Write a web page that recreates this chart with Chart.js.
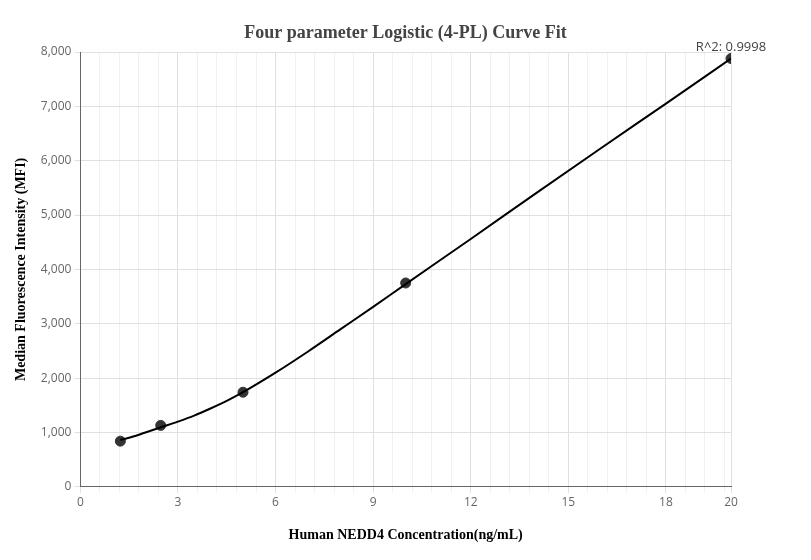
<!DOCTYPE html>
<html><head><meta charset="utf-8">
<script src="https://cdn.jsdelivr.net/npm/chart.js@4/dist/chart.umd.min.js"></script>
<style>html,body{margin:0;padding:0;background:#fff}#w{width:811px;height:560px}</style>
</head><body><div id="w"><canvas id="c"></canvas></div>
<script>
const pointX = [1.23, 2.47, 5, 10, 20];
const pointY = [840, 1130, 1740, 3750, 7880];
const curveX = [1.23, 1.6, 2, 2.5, 3, 3.5, 4, 4.5, 5, 6, 7, 8, 9, 10, 12, 14, 16, 18, 20];
const curveY = [860, 920, 1000, 1100, 1200, 1310, 1440, 1580, 1740, 2100, 2490, 2900, 3310, 3730, 4560, 5400, 6230, 7050, 7880];
const r2Label = 'R^2: 0.9998';
const titleText = 'Four parameter Logistic (4-PL) Curve Fit';

const r2Plugin = {id:'r2', afterDraw(chart){
  const c=chart.ctx, xs=chart.scales.x, ys=chart.scales.y;
  c.save(); c.font='13px "Open Sans", sans-serif'; c.fillStyle='#444'; c.textAlign='center'; c.textBaseline='bottom';
  c.fillText(r2Label, xs.getPixelForValue(pointX[4]), ys.getPixelForValue(pointY[4])-5);
  c.font='bold 18px "Liberation Serif", serif'; c.textBaseline='middle';
  c.fillText(titleText, chart.width/2, 33);
  c.restore();
}};
new Chart(document.getElementById('c'), {
  type:'scatter',
  data:{datasets:[
    {type:'line', data:curveX.map((x,i)=>({x,y:curveY[i]})), borderColor:'#000', borderWidth:2, pointRadius:0, cubicInterpolationMode:'monotone', fill:false},
    {data:pointX.map((x,i)=>({x,y:pointY[i]})), backgroundColor:'#333', borderColor:'#333', pointRadius:5}
  ]},
  options:{responsive:true, maintainAspectRatio:false, animation:false,
    layout:{padding:{top:52,right:80,left:9,bottom:12}},
    plugins:{legend:{display:false}, tooltip:{enabled:false}, title:{display:false}},
    scales:{
      x:{type:'linear', min:0, max:20,
        ticks:{stepSize:0.6, autoSkip:false, maxRotation:0, minRotation:0, color:'#666', font:{size:12, family:'"Open Sans", sans-serif'},
          callback:(v)=>{const k=Math.round(v/0.6); return (k%5===0||v===20)?String(Math.round(v)):'';}},
        afterBuildTicks:(s)=>{const t=[];for(let k=0;k<=33;k++)t.push({value:+(k*0.6).toFixed(1)});t.push({value:20});s.ticks=t;},
        grid:{color:(ctx)=>{const v=ctx.tick?ctx.tick.value:0;return (Math.round(v/0.6)%5===0||v===20)?'#e0e0e0':'#f0f0f0';}, tickLength:6, drawTicks:true},
        border:{color:'#666'},
        title:{display:true, text:'Human NEDD4 Concentration(ng/mL)', color:'#000', font:{family:'"Liberation Serif", serif', size:14, weight:'bold'}, padding:{top:14}}},
      y:{min:0, max:8000, ticks:{stepSize:1000, color:'#666', font:{size:12, family:'"Open Sans", sans-serif'}, callback:(v)=>v.toLocaleString('en-US')},
        grid:{color:'#e0e0e0', tickLength:6}, border:{color:'#666'},
        title:{display:true, text:'Median Fluorescence Intensity (MFI)', color:'#000', font:{family:'"Liberation Serif", serif', size:14, weight:'bold'}, padding:{bottom:8}}}
    }},
  plugins:[r2Plugin]
});
</script></body></html>
